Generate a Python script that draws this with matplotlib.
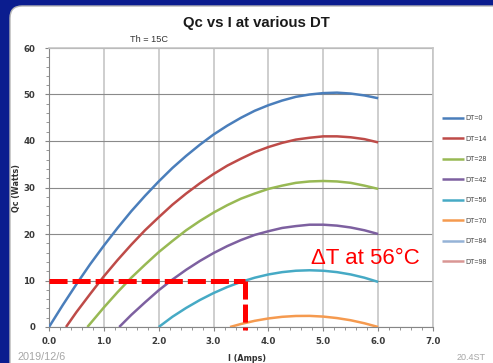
import matplotlib
matplotlib.use("Agg")
import matplotlib.pyplot as plt
from matplotlib.patches import FancyBboxPatch
from matplotlib.transforms import IdentityTransform
from matplotlib.ticker import MultipleLocator, FormatStrFormatter

# values: current I (A) and cooling power Qc (W), Th = 15C
I_DT0 = [0.0, 0.25, 0.5, 0.75, 1.0, 1.25, 1.5, 1.75, 2.0, 2.25, 2.5, 2.75, 3.0,
         3.25, 3.5, 3.75, 4.0, 4.25, 4.5, 4.75, 5.0, 5.25, 5.5, 5.75, 6.0]
Q_DT0 = [0.0, 4.7, 9.2, 13.5, 17.5, 21.3, 24.9, 28.2, 31.3, 34.2, 36.8, 39.2, 41.4,
         43.3, 45.0, 46.5, 47.7, 48.7, 49.5, 50.0, 50.3, 50.4, 50.2, 49.8, 49.2]
I_DT14 = [0.31, 0.5, 0.75, 1.0, 1.25, 1.5, 1.75, 2.0, 2.25, 2.5, 2.75, 3.0,
          3.25, 3.5, 3.75, 4.0, 4.25, 4.5, 4.75, 5.0, 5.25, 5.5, 5.75, 6.0]
Q_DT14 = [0.0, 3.2, 7.1, 10.9, 14.4, 17.7, 20.8, 23.6, 26.3, 28.7, 30.9, 32.9,
          34.7, 36.2, 37.6, 38.7, 39.6, 40.3, 40.7, 41.0, 41.0, 40.8, 40.4, 39.7]
I_DT28 = [0.7, 1.0, 1.25, 1.5, 1.75, 2.0, 2.25, 2.5, 2.75, 3.0, 3.25, 3.5,
          3.75, 4.0, 4.25, 4.5, 4.75, 5.0, 5.25, 5.5, 5.75, 6.0]
Q_DT28 = [0.0, 4.2, 7.5, 10.6, 13.4, 16.1, 18.5, 20.8, 22.8, 24.6, 26.2, 27.6,
          28.7, 29.7, 30.4, 31.0, 31.3, 31.4, 31.3, 31.0, 30.4, 29.7]
I_DT42 = [1.28, 1.5, 1.75, 2.0, 2.25, 2.5, 2.75, 3.0, 3.25, 3.5, 3.75, 4.0,
          4.25, 4.5, 4.75, 5.0, 5.25, 5.5, 5.75, 6.0]
Q_DT42 = [0.0, 2.6, 5.3, 7.9, 10.2, 12.3, 14.2, 15.9, 17.4, 18.7, 19.8, 20.6,
          21.3, 21.7, 22.0, 22.0, 21.8, 21.4, 20.8, 20.0]
I_DT56 = [2.0, 2.25, 2.5, 2.75, 3.0, 3.25, 3.5, 3.75, 4.0, 4.25, 4.5, 4.75,
          5.0, 5.25, 5.5, 5.75, 6.0]
Q_DT56 = [0.0, 2.2, 4.1, 5.8, 7.3, 8.6, 9.7, 10.6, 11.3, 11.8, 12.1, 12.2,
          12.1, 11.8, 11.3, 10.6, 9.7]
I_DT70 = [3.3, 3.5, 3.75, 4.0, 4.25, 4.5, 4.75, 5.0, 5.25, 5.5, 5.75, 6.0]
Q_DT70 = [0.0, 0.65, 1.33, 1.84, 2.19, 2.37, 2.39, 2.24, 1.92, 1.45, 0.80, 0.0]
# DT=84 and DT=98 give no positive Qc, so nothing shows on the plot
I_DT84, Q_DT84 = [], []
I_DT98, Q_DT98 = [], []

LABELS = ["DT=0", "DT=14", "DT=28", "DT=42", "DT=56", "DT=70", "DT=84", "DT=98"]
COLORS = ["#4a7ebb", "#be4b48", "#98b954", "#7d60a0", "#46aac5", "#f59a4f",
          "#95b3d7", "#d99694"]

# operating point marked with the red dashed guide
MARK_I = 3.58
MARK_Q = 10

W, H = 493, 363
fig = plt.figure(figsize=(W / 100, H / 100), dpi=100, facecolor="#0b1d8f")

panel = FancyBboxPatch((10, -30), 540, H - 6 + 30,
                       boxstyle="round,pad=0,rounding_size=12",
                       transform=IdentityTransform(), fc="white",
                       ec="#b5b5b5", lw=1, zorder=0)
fig.add_artist(panel)

ax = fig.add_axes([49 / W, 1 - 327 / H, (433 - 49) / W, (327 - 48) / H])
ax.set_facecolor("white")

series = [(I_DT0, Q_DT0), (I_DT14, Q_DT14), (I_DT28, Q_DT28), (I_DT42, Q_DT42),
          (I_DT56, Q_DT56), (I_DT70, Q_DT70), (I_DT84, Q_DT84), (I_DT98, Q_DT98)]
handles = []
for (xs, ys), lab, col in zip(series, LABELS, COLORS):
    h, = ax.plot(xs, ys, color=col, lw=1.8, label=lab, zorder=3,
                 solid_capstyle="butt", solid_joinstyle="round")
    handles.append(h)

# red dashed guide: horizontal to the curve, then down to the axis
plt.rcParams["lines.scale_dashes"] = False
ax.plot([0, MARK_I], [MARK_Q, MARK_Q], color="#ff0000", lw=3.6,
        dashes=(13, 3.6), zorder=5, clip_on=False)
ax.plot([MARK_I, MARK_I], [MARK_Q, -0.7], color="#ff0000", lw=3.6,
        dashes=(13, 3.6), zorder=5, clip_on=False)

ax.set_xlim(0, 7)
ax.set_ylim(0, 60)
ax.xaxis.set_major_locator(MultipleLocator(1))
ax.xaxis.set_minor_locator(MultipleLocator(0.2))
ax.yaxis.set_major_locator(MultipleLocator(10))
ax.yaxis.set_minor_locator(MultipleLocator(2))
ax.xaxis.set_major_formatter(FormatStrFormatter("%.1f"))

ax.grid(axis="x", which="major", color="#c6c6c6", lw=1.2, zorder=1)
ax.grid(axis="y", which="major", color="#8a8a8a", lw=0.8, zorder=1)
ax.set_axisbelow(True)

for side in ("top", "right"):
    ax.spines[side].set_color("#c6c6c6")
    ax.spines[side].set_linewidth(1.2)
for side in ("left", "bottom"):
    ax.spines[side].set_color("#868686")
    ax.spines[side].set_linewidth(0.8)

ax.tick_params(which="major", length=3, width=0.8, color="#868686",
               labelsize=6.2, labelcolor="#3a3a3a")
ax.tick_params(which="minor", length=2, width=0.6, color="#868686")
ax.tick_params(axis="y", which="major", pad=7)
ax.tick_params(axis="x", which="major", pad=4)
for t in ax.get_xticklabels() + ax.get_yticklabels():
    t.set_fontweight("bold")

ax.set_xlabel("I (Amps)", fontsize=5.8, fontweight="bold", color="#333333")
ax.set_ylabel("Qc (Watts)", fontsize=5.8, fontweight="bold", color="#333333")
ax.xaxis.set_label_coords(0.516, -0.097)
ax.yaxis.set_label_coords(-0.072, 0.5)

ax.text(5.76, 14.8, "\u0394T at 56\u00b0C", color="#ff0000", fontsize=16,
        family=["Liberation Sans", "DejaVu Sans"], ha="center", va="center",
        zorder=6)

leg = ax.legend(handles=handles, loc="upper left",
                bbox_to_anchor=(442 / W, 1 - 115 / H),
                bbox_transform=fig.transFigure, frameon=False,
                prop={"family": "Liberation Sans", "size": 5},
                handlelength=3.2, handletextpad=0.1, labelspacing=1.95,
                borderpad=0, borderaxespad=0)
for t in leg.get_texts():
    t.set_color("#404040")

fig.text(256 / W, 1 - 23 / H, "Qc vs I at various DT", ha="center",
         va="center", fontsize=10.7, fontweight="bold",
         family="Liberation Sans", color="#1a1a1a")
fig.text(149 / W, 1 - 39 / H, "Th = 15C", ha="center", va="center",
         fontsize=6.6, family="Liberation Sans", color="#333333")

fig.text(17 / W, 1 - 357 / H, "2019/12/6", ha="left", va="center",
         fontsize=7.8, family="Liberation Sans", color="#a6a6a6")
fig.text(486 / W, 1 - 357 / H, "20.4ST", ha="right", va="center",
         fontsize=6.5, family="Liberation Sans", color="#a6a6a6")

fig.savefig("out.png", dpi=100, facecolor=fig.get_facecolor())
